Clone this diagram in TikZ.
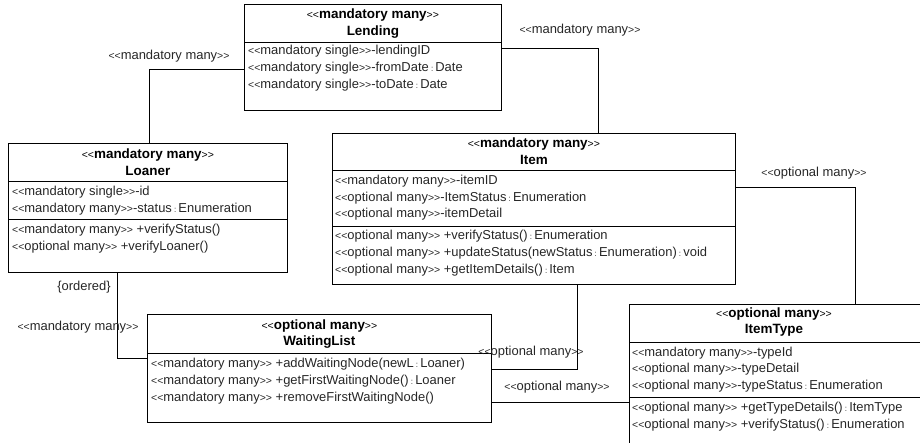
\documentclass[tikz,border=0pt]{standalone}
\usepackage{fontspec}
\setmainfont{Liberation Sans}
% stereotype brackets and type colons are set smaller than the member text;
% the empty groups keep << and >> from turning into guillemets
\newcommand\stp[1]{{\fontsize{10.5}{11}\selectfont<{}<}#1{\fontsize{10.5}{11}\selectfont>{}>}}
\newcommand\cln{\,{\fontsize{8}{9}\selectfont:}\,}
\begin{document}
\begin{tikzpicture}[x=1bp,y=-1bp,
  classbox/.style={draw, line width=0.8pt, rectangle, inner sep=0pt, anchor=north west},
  sep/.style={line width=0.8pt},
  row/.style={anchor=west, inner sep=0pt, font=\fontsize{13}{14}\selectfont, text=black!85},
  hdr/.style={anchor=center, inner sep=0pt, font=\fontsize{13.5}{14}\selectfont},
  conn/.style={line width=0.8pt},
  lbl/.style={inner sep=0pt, font=\fontsize{13}{14}\selectfont, text=black!85}]
\useasboundingbox (0,0) rectangle (920,443);
\clip (0,0) rectangle (920,443);

% ---- Lending
\node[classbox, minimum width=257bp, minimum height=106bp] (lending) at (244,4) {};
\draw[sep] (lending.west |- 0,42) -- (lending.east |- 0,42);
\node[hdr] (lendingS) at (lending.north |- 0,15) {\stp{\textbf{mandatory many}}};
\node[hdr] (lendingN) at (lending.north |- 0,32) {\textbf{Lending}};
\node[row] (lendingA1) at (248,51) {\stp{mandatory single}-lendingID};
\node[row] (lendingA2) at (248,68) {\stp{mandatory single}-fromDate\cln Date};
\node[row] (lendingA3) at (248,85) {\stp{mandatory single}-toDate\cln Date};

% ---- Loaner
\node[classbox, minimum width=279bp, minimum height=129bp] (loaner) at (8,143) {};
\draw[sep] (loaner.west |- 0,181) -- (loaner.east |- 0,181);
\draw[sep] (loaner.west |- 0,219) -- (loaner.east |- 0,219);
\node[hdr] (loanerS) at (loaner.north |- 0,155) {\stp{\textbf{mandatory many}}};
\node[hdr] (loanerN) at (loaner.north |- 0,171) {\textbf{Loaner}};
\node[row] (loanerA1) at (12,192) {\stp{mandatory single}-id};
\node[row] (loanerA2) at (12,209) {\stp{mandatory many}-status\cln Enumeration};
\node[row] (loanerO1) at (12,230) {\stp{mandatory many} +verifyStatus()};
\node[row] (loanerO2) at (12,247) {\stp{optional many} +verifyLoaner()};

% ---- Item
\node[classbox, minimum width=403bp, minimum height=151bp] (item) at (332,133) {};
\draw[sep] (item.west |- 0,170) -- (item.east |- 0,170);
\draw[sep] (item.west |- 0,226) -- (item.east |- 0,226);
\node[hdr] (itemS) at (item.north |- 0,144) {\stp{\textbf{mandatory many}}};
\node[hdr] (itemN) at (item.north |- 0,160) {\textbf{Item}};
\node[row] (itemA1) at (335,181) {\stp{mandatory many}-itemID};
\node[row] (itemA2) at (335,198) {\stp{optional many}-ItemStatus\cln Enumeration};
\node[row] (itemA3) at (335,214) {\stp{optional many}-itemDetail};
\node[row] (itemO1) at (335,236) {\stp{optional many} +verifyStatus()\cln Enumeration};
\node[row] (itemO2) at (335,253) {\stp{optional many} +updateStatus(newStatus\cln Enumeration)\cln void};
\node[row] (itemO3) at (335,270) {\stp{optional many} +getItemDetails()\cln Item};

% ---- WaitingList
\node[classbox, minimum width=344bp, minimum height=108bp] (wait) at (147,314) {};
\draw[sep] (wait.west |- 0,353) -- (wait.east |- 0,353);
\node[hdr] (waitS) at (wait.north |- 0,326) {\stp{\textbf{optional many}}};
\node[hdr] (waitN) at (wait.north |- 0,342) {\textbf{WaitingList}};
\node[row] (waitO1) at (151,364) {\stp{mandatory many} +addWaitingNode(newL\cln Loaner)};
\node[row] (waitO2) at (151,381) {\stp{mandatory many} +getFirstWaitingNode()\cln Loaner};
\node[row] (waitO3) at (151,398) {\stp{mandatory many} +removeFirstWaitingNode()};

% ---- ItemType (runs past the right and lower edges)
\node[classbox, minimum width=450bp, minimum height=200bp] (itype) at (629,304) {};
\draw[sep] (itype.west |- 0,342) -- (itype.east |- 0,342);
\draw[sep] (itype.west |- 0,397) -- (itype.east |- 0,397);
\node[hdr] (itypeS) at (774,314) {\stp{\textbf{optional many}}};
\node[hdr] (itypeN) at (774,330) {\textbf{ItemType}};
\node[row] (itypeA1) at (632,353) {\stp{mandatory many}-typeId};
\node[row] (itypeA2) at (632,369) {\stp{optional many}-typeDetail};
\node[row] (itypeA3) at (632,386) {\stp{optional many}-typeStatus\cln Enumeration};
\node[row] (itypeO1) at (632,408) {\stp{optional many} +getTypeDetails()\cln ItemType};
\node[row] (itypeO2) at (632,425) {\stp{optional many} +verifyStatus()\cln Enumeration};

% ---- associations
\draw[conn] (lending.west |- 0,69) -| (loaner.north -| 149,0);
\node[lbl] (l1) at (169,56) {\stp{mandatory many}};

\draw[conn] (lending.east |- 0,48) -| (item.north -| 598,0);
\node[lbl] (l2) at (580,30) {\stp{mandatory many}};

\draw[conn] (item.east |- 0,187) -| (itype.north -| 855,0);
\node[lbl] (l3) at (814,173) {\stp{optional many}};

\draw[conn] (item.south -| 577,0) |- (wait.east |- 0,369);
\node[lbl] (l4) at (531,352) {\stp{optional many}};

\draw[conn] (wait.east |- 0,402) -- (itype.west |- 0,402);
\node[lbl] (l5) at (557,387) {\stp{optional many}};

\draw[conn] (loaner.south -| 117,0) |- (wait.west |- 0,358);
\node[lbl] (l6) at (84,287) {\{ordered\}};
\node[lbl] (l7) at (78,327) {\stp{mandatory many}};
\end{tikzpicture}
\end{document}
